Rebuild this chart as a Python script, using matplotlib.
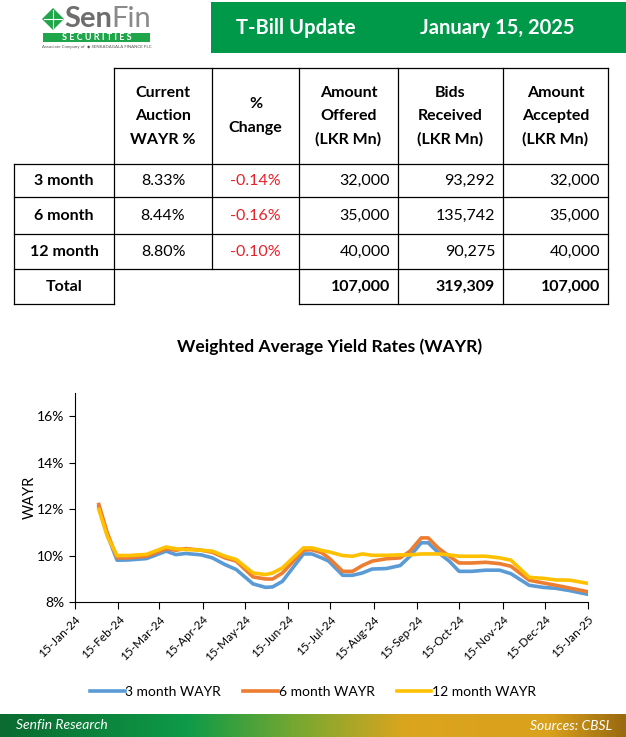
import numpy as np
import pandas as pd
import matplotlib
matplotlib.use("Agg")
import matplotlib.pyplot as plt
import matplotlib.dates as mdates
from matplotlib.patches import Rectangle, Polygon

plt.rcParams['font.family'] = ['Lato', 'DejaVu Sans']

# ---- table data
tenors = ["3 month", "6 month", "12 month"]
wayr_now = ["8.33%", "8.44%", "8.80%"]
pct_change = ["-0.14%", "-0.16%", "-0.10%"]
offered = ["32,000", "35,000", "40,000"]
received = ["93,292", "135,742", "90,275"]
accepted = ["32,000", "35,000", "40,000"]
totals = ["107,000", "319,309", "107,000"]
headers = [["Current", "Auction", "WAYR %"], ["%", "Change"],
           ["Amount", "Offered", "(LKR Mn)"], ["Bids", "Received", "(LKR Mn)"],
           ["Amount", "Accepted", "(LKR Mn)"]]

# ---- chart data
dates = ["2024-02-01", "2024-02-07", "2024-02-14", "2024-02-22", "2024-03-06",
         "2024-03-20", "2024-03-27", "2024-04-03", "2024-04-14", "2024-04-22",
         "2024-05-01", "2024-05-09", "2024-05-21", "2024-05-30", "2024-06-04",
         "2024-06-11", "2024-06-26", "2024-07-02", "2024-07-09", "2024-07-14",
         "2024-07-24", "2024-07-31", "2024-08-07", "2024-08-14", "2024-08-24",
         "2024-09-03", "2024-09-10", "2024-09-18", "2024-09-23", "2024-09-30",
         "2024-10-08", "2024-10-15", "2024-10-24", "2024-11-03", "2024-11-13",
         "2024-11-21", "2024-12-04", "2024-12-14", "2024-12-23", "2025-01-02",
         "2025-01-15"]
wayr_3m = [12.10, 10.90, 9.80, 9.81, 9.87, 10.19, 10.04, 10.09, 10.03, 9.90,
           9.61, 9.40, 8.78, 8.63, 8.65, 8.89, 10.07, 10.07, 9.90, 9.76,
           9.15, 9.15, 9.25, 9.42, 9.44, 9.57, 9.97, 10.55, 10.55, 10.14,
           9.76, 9.32, 9.32, 9.37, 9.37, 9.22, 8.72, 8.63, 8.59, 8.49, 8.33]
wayr_6m = [12.20, 10.98, 9.90, 9.90, 9.97, 10.29, 10.23, 10.30, 10.23, 10.14,
           9.90, 9.76, 9.08, 8.99, 8.99, 9.25, 10.23, 10.25, 10.12, 9.90,
           9.32, 9.32, 9.57, 9.76, 9.86, 9.90, 10.19, 10.76, 10.76, 10.33,
           9.97, 9.68, 9.68, 9.71, 9.65, 9.54, 8.94, 8.82, 8.72, 8.60, 8.44]
wayr_12m = [11.99, 10.83, 10.00, 10.00, 10.05, 10.37, 10.29, 10.26, 10.23, 10.19,
            9.97, 9.83, 9.25, 9.18, 9.25, 9.47, 10.33, 10.33, 10.22, 10.16,
            10.00, 9.97, 10.07, 10.01, 10.01, 10.03, 10.03, 10.07, 10.07, 10.07,
            10.03, 9.97, 9.97, 9.97, 9.90, 9.80, 9.06, 9.02, 8.95, 8.94, 8.80]

W, H = 626, 737
fig = plt.figure(figsize=(W / 100, H / 100), dpi=100)
bg = fig.add_axes([0, 0, 1, 1])
bg.set_xlim(0, W)
bg.set_ylim(H, 0)
bg.axis("off")

# ---- header
green = "#00994A"
bg.add_patch(Rectangle((211, 2), W - 211, 51, color=green, lw=0))
bg.text(236, 28, "T-Bill Update", color="white", fontsize=14.5, fontweight="bold",
        va="center", ha="left")
bg.text(420, 28, "January 15, 2025", color="white", fontsize=14.5, fontweight="bold",
        va="center", ha="left")

# logo
bg.add_patch(Polygon([[53, 8], [64, 19], [53, 30], [42, 19]], closed=True,
                     color="#1FA64A", lw=0))
bg.plot([44, 62], [19, 19], color="white", lw=0.8)
bg.plot([53, 53], [10, 28], color="white", lw=0.8)
sen = bg.text(64, 19, "Sen", color="#6E6E6E", fontsize=21, fontweight="bold",
              va="center", ha="left")
fig.canvas.draw()
ext = sen.get_window_extent().transformed(bg.transData.inverted())
bg.text(ext.x1, 19, "Fin", color="#8A8A8A", fontsize=21, va="center", ha="left")
bg.add_patch(Rectangle((43, 33), 107, 9, color="#1FA64A", lw=0))
bg.text(96.5, 37.8, "S E C U R I T I E S", color="white", fontsize=6.5,
        fontweight="bold", va="center", ha="center")
bg.text(96.5, 46.5, "Associate Company of  \u25c6 SENKADAGALA FINANCE PLC",
        color="#555555", fontsize=3.2, va="center", ha="center")

# ---- table
xs = [14, 114, 212, 299, 398, 503, 608]
ys = [68, 164, 197, 234, 269, 304]
lc = "black"
tlw = 0.9
bg.plot([114, 608], [68, 68], color=lc, lw=tlw)
for y in ys[1:5]:
    bg.plot([14, 608], [y, y], color=lc, lw=tlw)
bg.plot([14, 114], [304, 304], color=lc, lw=tlw)
bg.plot([299, 608], [304, 304], color=lc, lw=tlw)
bg.plot([14, 14], [164, 304], color=lc, lw=tlw)
bg.plot([114, 114], [68, 304], color=lc, lw=tlw)
bg.plot([212, 212], [68, 269], color=lc, lw=tlw)
for x in xs[3:]:
    bg.plot([x, x], [68, 304], color=lc, lw=tlw)

fs = 11.5
for i, lines in enumerate(headers):
    cx = (xs[i + 1] + xs[i + 2]) / 2
    n = len(lines)
    y0 = 116 - (n - 1) * 23.5 / 2
    for k, s in enumerate(lines):
        bg.text(cx, y0 + k * 23.5, s, fontsize=fs, fontweight="bold",
                ha="center", va="center")

row_y = [181, 216, 252]
for r, y in enumerate(row_y):
    bg.text(64, y, tenors[r], fontsize=fs, fontweight="bold", ha="center", va="center")
    bg.text(163, y, wayr_now[r], fontsize=fs, ha="center", va="center")
    bg.text(255.5, y, pct_change[r], fontsize=fs, ha="center", va="center",
            color="#E8202A")
    bg.text(xs[4] - 8, y, offered[r], fontsize=fs, ha="right", va="center")
    bg.text(xs[5] - 8, y, received[r], fontsize=fs, ha="right", va="center")
    bg.text(xs[6] - 8, y, accepted[r], fontsize=fs, ha="right", va="center")
bg.text(64, 287, "Total", fontsize=fs, fontweight="bold", ha="center", va="center")
for j, v in enumerate(totals):
    bg.text(xs[4 + j] - 8, 287, v, fontsize=fs, fontweight="bold",
            ha="right", va="center")

# ---- chart
bg.text(330, 347, "Weighted Average Yield Rates (WAYR)", fontsize=12.6,
        fontweight="bold", ha="center", va="center")

ax = fig.add_axes([75 / W, 1 - 602 / H, (588 - 75) / W, (602 - 393) / H])
d = pd.to_datetime(dates)
ax.plot(d, wayr_3m, color="#5B9BD5", lw=2.6, label="3 month WAYR")
ax.plot(d, wayr_6m, color="#ED7D31", lw=2.6, label="6 month WAYR")
ax.plot(d, wayr_12m, color="#FFC000", lw=2.6, label="12 month WAYR")
ax.set_xlim(pd.Timestamp("2024-01-15"), pd.Timestamp("2025-01-15"))
ax.set_ylim(8, 17)
ax.set_yticks([8, 10, 12, 14, 16])
ax.set_yticklabels(["8%", "10%", "12%", "14%", "16%"], fontsize=10)
ax.xaxis.set_major_locator(mdates.MonthLocator(bymonthday=15))
ax.xaxis.set_major_formatter(mdates.DateFormatter("%d-%b-%y"))
plt.setp(ax.get_xticklabels(), rotation=45, ha="right", rotation_mode="anchor",
         fontsize=8.5)
ax.tick_params(axis="x", length=5, width=0.8)
ax.tick_params(axis="y", length=4, width=0.8)
for s in ["top", "right"]:
    ax.spines[s].set_visible(False)
ax.set_ylabel("WAYR", fontsize=10.5)
ax.yaxis.set_label_coords(-0.075, 0.5)

fig.legend(loc="center", bbox_to_anchor=(0.5, 1 - 692 / H), ncol=3, frameon=False,
           fontsize=10, handlelength=2.5, handletextpad=0.05, columnspacing=1.6)

# ---- footer
grad = np.linspace(0, 1, 300)
cmap = matplotlib.colors.LinearSegmentedColormap.from_list(
    "foot", [(0, "#0B6B30"), (0.3, "#0E9B48"), (0.48, "#7AA830"),
             (0.65, "#DCA51E"), (0.88, "#D9A11C"), (1, "#9A6A10")])
bg.imshow(grad[None, :], cmap=cmap, aspect="auto", extent=[0, W, H, 714])
bg.set_xlim(0, W)
bg.set_ylim(H, 0)
bg.text(16, 725.5, "Senfin Research", color="white", fontsize=10, style="italic",
        ha="left", va="center")
bg.text(612, 725.5, "Sources: CBSL", color="white", fontsize=10, style="italic",
        ha="right", va="center")

fig.savefig("out.png", dpi=100)
